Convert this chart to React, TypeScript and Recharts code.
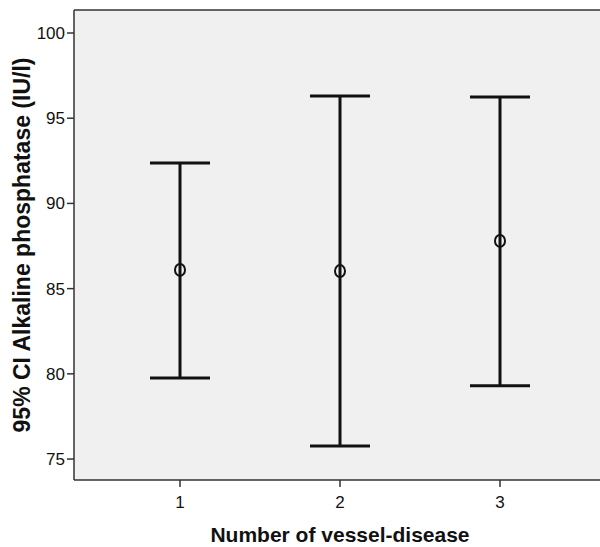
import {
  ComposedChart, Scatter, ErrorBar, XAxis, YAxis, CartesianGrid, ReferenceLine,
} from 'recharts';

const groups = [1, 2, 3];
const means = [86.1, 86.03, 87.8];
const lower = [79.75, 75.76, 79.3];
const upper = [92.37, 96.3, 96.24];
const yTicks = [75, 80, 85, 90, 95, 100];

const data = groups.map((g, i) => ({
  group: g,
  mean: means[i],
  ci: [means[i] - lower[i], upper[i] - means[i]],
}));

const font = '"Liberation Sans", Arial, sans-serif';
const axisColor = '#333';
const tickStyle = { fontSize: 17, fill: '#111', fontFamily: font };

const Ring = (props: any) => {
  const { cx, cy } = props;
  return <ellipse cx={cx} cy={cy} rx={5} ry={6} fill="none" stroke="#111" strokeWidth={2} />;
};

export default function App() {
  return (
    <div style={{ position: 'absolute', left: 0, top: 0, width: 600, height: 547, overflow: 'hidden', background: '#fff' }}>
      <ComposedChart
        width={610}
        height={547}
        data={data}
        margin={{ top: 10, right: 4, bottom: 0, left: 30 }}
      >
        <CartesianGrid fill="#f0f0f0" horizontal={false} vertical={false} />
        <XAxis
          dataKey="group"
          type="number"
          domain={[0.3375, 3.6625]}
          ticks={groups}
          stroke={axisColor}
          strokeWidth={1.5}
          tickSize={7}
          tickMargin={9}
          tick={tickStyle}
          height={67}
          label={{
            value: 'Number of vessel-disease',
            position: 'insideBottom',
            offset: 5,
            style: { fontSize: 21, fontWeight: 'bold', fill: '#111', fontFamily: font },
          }}
        />
        <YAxis
          type="number"
          domain={[73.77, 101.35]}
          ticks={yTicks}
          allowDataOverflow
          stroke={axisColor}
          strokeWidth={1.5}
          tickSize={7}
          tick={tickStyle}
          width={44}
          label={{
            value: '95% CI Alkaline phosphatase (IU/l)',
            angle: -90,
            position: 'insideLeft',
            offset: -8,
            style: { textAnchor: 'middle', fontSize: 23, fontWeight: 'bold', fill: '#111', fontFamily: font },
          }}
        />
        <ReferenceLine y={101.35} stroke={axisColor} strokeWidth={1.5} />
        <Scatter dataKey="mean" shape={<Ring />} isAnimationActive={false}>
          <ErrorBar dataKey="ci" direction="y" width={30} stroke="#111" strokeWidth={3} />
        </Scatter>
      </ComposedChart>
    </div>
  );
}
